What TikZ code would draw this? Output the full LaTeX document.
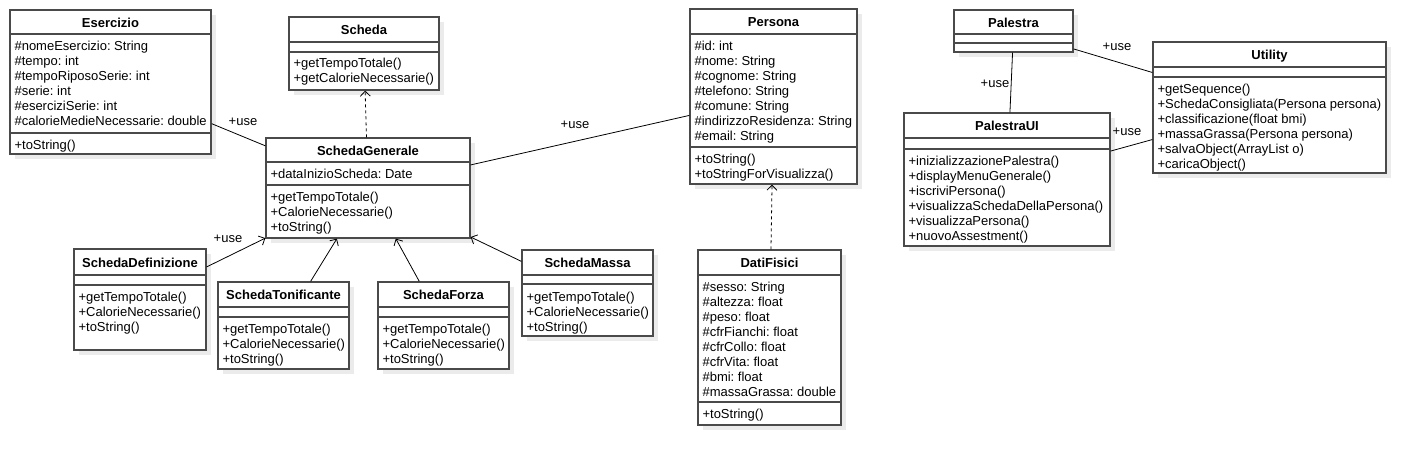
\documentclass[tikz,border=0pt]{standalone}
\usepackage{fontspec}
\setmainfont{Liberation Sans}
\usetikzlibrary{arrows.meta, calc}
\definecolor{BoxGray}{HTML}{4A4A4A}
\definecolor{ShadowGray}{HTML}{EBEBEB}
\frenchspacing

% class box: name, x, y, width, height, title line, member line, title
\newcommand{\umlbox}[8]{%
  \fill[ShadowGray] (#2+5,#3+5) rectangle ++(#4,#5);
  \node[cls, minimum width=#4pt, minimum height=#5pt] (#1) at (#2+#4/2,#3+#5/2) {};
  \node[ctitle] (#1-t) at (#2+#4/2,#3+#6/2+2) {#8};
  \draw[csep] (#2,#3+#6) -- ++(#4,0);
  \draw[csep] (#2,#3+#7) -- ++(#4,0);
}

\begin{document}
\begin{tikzpicture}[
    x=1pt, y=-1pt,
    cls/.style={draw=BoxGray, fill=white, line width=1.3pt, inner sep=0pt},
    csep/.style={draw=BoxGray, line width=1.3pt},
    ctitle/.style={font=\bfseries\fontsize{13}{15}\selectfont, inner sep=0pt,
                   text height=9.4pt, text depth=2.8pt},
    mem/.style={anchor=north west, inner sep=0pt, align=left,
                font=\fontsize{13}{15}\selectfont},
    uselbl/.style={font=\fontsize{13}{15}\selectfont, inner sep=0pt,
                   text height=9.4pt, text depth=2.8pt},
    assoc/.style={line width=0.8pt},
    gen/.style={assoc, -{Straight Barb[length=5pt, width=10pt]}},
    dep/.style={gen, dash pattern=on 3pt off 3pt},
  ]
    \fill[white] (0,0) rectangle (1426,465);
    \useasboundingbox (0,0) rectangle (1426,465);

    % ---- schede ----
    \umlbox{esercizio}{10}{10}{201}{144}{24}{123}{Esercizio}
    \node[mem] (esercizio-a) at ($(esercizio.north west)+(5,32)$)
      {\#nomeEsercizio: String\\\#tempo: int\\\#tempoRiposoSerie: int\\\#serie: int\\\#eserciziSerie: int\\\#calorieMedieNecessarie: double};
    \node[mem] (esercizio-m) at ($(esercizio.north west)+(5,131)$) {+toString()};

    \umlbox{scheda}{289}{17}{150}{73}{25}{35}{Scheda}
    \node[mem] (scheda-m) at ($(scheda.north west)+(5,42)$) {+getTempoTotale()\\+getCalorieNecessarie()};

    \umlbox{schedaGen}{266}{138}{204}{100}{24}{47}{SchedaGenerale}
    \node[mem] (schedaGen-a) at ($(schedaGen.north west)+(5,32)$) {+dataInizioScheda: Date};
    \node[mem] (schedaGen-m) at ($(schedaGen.north west)+(5,55)$) {+getTempoTotale()\\+CalorieNecessarie()\\+toString()};

    \umlbox{schedaDef}{74}{249}{132}{101}{26}{36}{SchedaDefinizione}
    \node[mem] (schedaDef-m) at ($(schedaDef.north west)+(5,44)$) {+getTempoTotale()\\+CalorieNecessarie()\\+toString()};

    \umlbox{schedaTon}{218}{282}{131}{87}{25}{35}{SchedaTonificante}
    \node[mem] (schedaTon-m) at ($(schedaTon.north west)+(5,43)$) {+getTempoTotale()\\+CalorieNecessarie()\\+toString()};

    \umlbox{schedaFor}{378}{282}{131}{87}{25}{35}{SchedaForza}
    \node[mem] (schedaFor-m) at ($(schedaFor.north west)+(5,43)$) {+getTempoTotale()\\+CalorieNecessarie()\\+toString()};

    \umlbox{schedaMas}{522}{250}{131}{86}{25}{34}{SchedaMassa}
    \node[mem] (schedaMas-m) at ($(schedaMas.north west)+(5,43)$) {+getTempoTotale()\\+CalorieNecessarie()\\+toString()};

    % ---- persona ----
    \umlbox{persona}{690}{9}{167}{175}{25}{138}{Persona}
    \node[mem] (persona-a) at ($(persona.north west)+(5,33)$)
      {\#id: int\\\#nome: String\\\#cognome: String\\\#telefono: String\\\#comune: String\\\#indirizzoResidenza: String\\\#email: String};
    \node[mem] (persona-m) at ($(persona.north west)+(5,146)$) {+toString()\\+toStringForVisualizza()};

    \umlbox{datiFisici}{698}{250}{143}{175}{25}{152}{DatiFisici}
    \node[mem] (datiFisici-a) at ($(datiFisici.north west)+(5,33)$)
      {\#sesso: String\\\#altezza: float\\\#peso: float\\\#cfrFianchi: float\\\#cfrCollo: float\\\#cfrVita: float\\\#bmi: float\\\#massaGrassa: double};
    \node[mem] (datiFisici-m) at ($(datiFisici.north west)+(5,160)$) {+toString()};

    % ---- palestra ----
    \umlbox{palestra}{954}{10}{119}{42}{24}{33}{Palestra}

    \umlbox{utility}{1153}{42}{233}{131}{25}{35}{Utility}
    \node[mem] (utility-m) at ($(utility.north west)+(5,43)$)
      {+getSequence()\\+SchedaConsigliata(Persona persona)\\+classificazione(float bmi)\\+massaGrassa(Persona persona)\\+salvaObject(ArrayList o)\\+caricaObject()};

    \umlbox{palestraUI}{904}{113}{206}{133}{25}{36}{PalestraUI}
    \node[mem] (palestraUI-m) at ($(palestraUI.north west)+(5,44)$)
      {+inizializzazionePalestra()\\+displayMenuGenerale()\\+iscriviPersona()\\+visualizzaSchedaDellaPersona()\\+visualizzaPersona()\\+nuovoAssestment()};

    % ---- relazioni ----
    \draw[assoc] (esercizio) -- (schedaGen);
    \draw[assoc] (schedaGen) -- (persona);
    \draw[dep] (schedaGen) -- (scheda);
    \draw[dep] (datiFisici) -- (persona);
    \draw[gen] (schedaDef) -- (schedaGen);
    \draw[gen] (schedaTon) -- (schedaGen);
    \draw[gen] (schedaFor) -- (schedaGen);
    \draw[gen] (schedaMas) -- (schedaGen);
    \draw[assoc] (palestra) -- (palestraUI);
    \draw[assoc] (palestra) -- (utility);
    \draw[assoc] (palestraUI) -- (utility);

    % ---- etichette ----
    \node[uselbl] (use1) at (243,122) {+use};
    \node[uselbl] (use2) at (575,125) {+use};
    \node[uselbl] (use3) at (228,239) {+use};
    \node[uselbl] (use4) at (995,84)  {+use};
    \node[uselbl] (use5) at (1117,47) {+use};
    \node[uselbl] (use6) at (1127,132) {+use};
  \end{tikzpicture}
\end{document}
